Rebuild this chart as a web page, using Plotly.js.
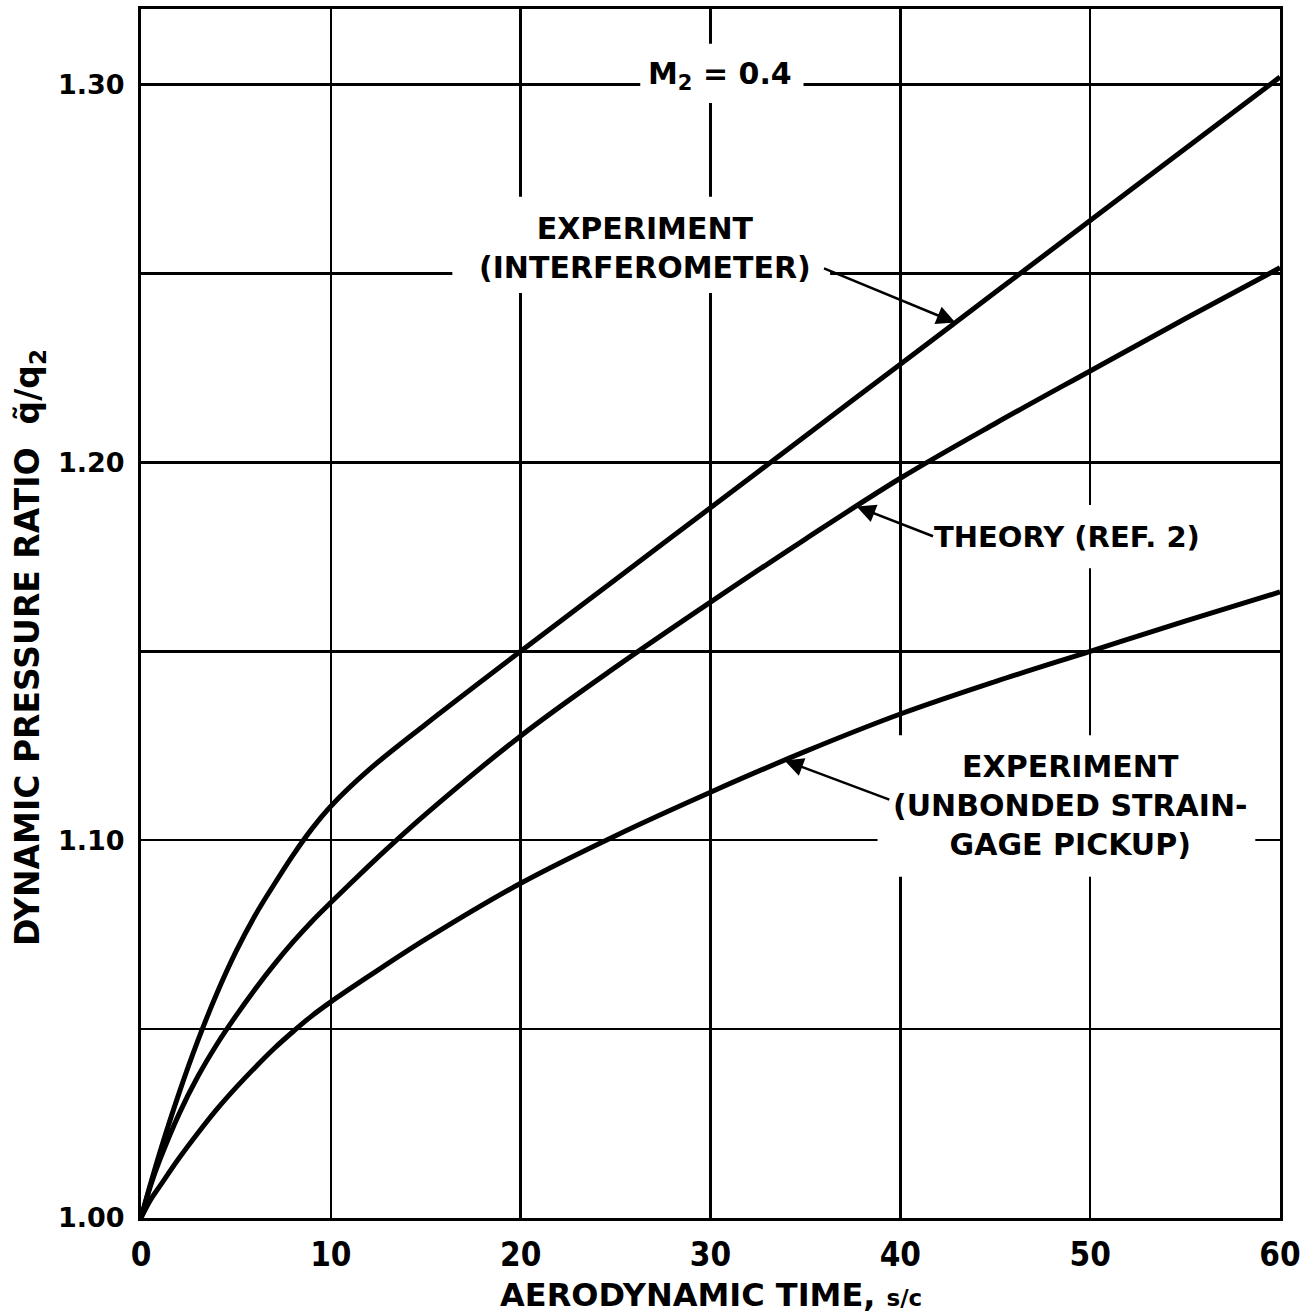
<!DOCTYPE html>
<html>
<head>
<meta charset="utf-8">
<script src="https://cdn.plot.ly/plotly-3.0.1.min.js"></script>
<style>html,body{margin:0;padding:0;background:#fff;}#chart{width:1313px;height:1314px;}</style>
</head>
<body>
<div id="chart"></div>
<script>
// Aerodynamic time s/c  ->  dynamic pressure ratio q~/q2
const xInterf = [0, 0.5, 1, 2, 3, 4, 5, 6, 7, 8, 9, 10, 12, 15, 20, 25, 30, 35, 40, 45, 50, 55, 60];
const yInterf = [1.000, 1.009, 1.0175, 1.033, 1.047, 1.0595, 1.0705, 1.080, 1.0882, 1.096, 1.103, 1.109, 1.1186, 1.1307, 1.150, 1.169, 1.188, 1.207, 1.226, 1.245, 1.264, 1.283, 1.302];

const xTheory = [0, 0.5, 1, 2, 3, 4, 5, 6, 7, 8, 9, 10, 12, 13, 15, 20, 25, 30, 35, 40, 45, 50, 55, 60];
const yTheory = [1.000, 1.0085, 1.0155, 1.0275, 1.0375, 1.046, 1.0535, 1.0605, 1.067, 1.073, 1.0785, 1.0835, 1.0932, 1.0979, 1.1069, 1.1276, 1.1458, 1.163, 1.1797, 1.1958, 1.2103, 1.2242, 1.238, 1.2515];

const xStrain = [0, 0.5, 1, 2, 3, 4, 5, 6, 7, 8, 9, 10, 12, 15, 20, 25, 30, 35, 40, 45, 50, 55, 60];
const yStrain = [1.000, 1.0048, 1.0085, 1.0158, 1.0225, 1.0288, 1.0345, 1.0398, 1.0448, 1.0493, 1.0535, 1.0572, 1.064, 1.0738, 1.0886, 1.1012, 1.1127, 1.1235, 1.1334, 1.142, 1.150, 1.158, 1.1657];

const xTickVals = [0, 10, 20, 30, 40, 50, 60];
const xTickText = ['0', '10', '20', '30', '40', '50', '60'];
const yTickVals = [1.00, 1.10, 1.20, 1.30];
const yTickText = ['1.00', '1.10', '1.20', '1.30'];
const yMinorVals = [1.05, 1.15, 1.25];

const FONT = 'DejaVu Sans, Liberation Sans, Arial, sans-serif';
const lineStyle = {color: '#000', width: 5, shape: 'spline', smoothing: 1.0};

const traces = [
  {x: xInterf, y: yInterf, mode: 'lines', line: lineStyle, name: 'Experiment (interferometer)', hoverinfo: 'skip'},
  {x: xTheory, y: yTheory, mode: 'lines', line: lineStyle, name: 'Theory (Ref. 2)', hoverinfo: 'skip'},
  {x: xStrain, y: yStrain, mode: 'lines', line: lineStyle, name: 'Experiment (unbonded strain-gage pickup)', hoverinfo: 'skip'}
];

function mask(x0, x1, y0, y1) {
  return {type: 'rect', xref: 'x', yref: 'y', x0: x0, x1: x1, y0: y0, y1: y1,
          fillcolor: '#fff', line: {width: 0}, layer: 'between'};
}

const lblFont = {family: FONT, size: 30, color: '#000', weight: 'bold'};
function arrow(x, y, ax, ay) {
  return {x: x, y: y, ax: ax, ay: ay, xref: 'x', yref: 'y', axref: 'x', ayref: 'y',
          text: '', showarrow: true, arrowhead: 2, arrowsize: 1.5, arrowwidth: 2.5, arrowcolor: '#000', standoff: 0};
}

const layout = {
  width: 1313, height: 1314,
  margin: {l: 141, r: 33, t: 9, b: 96},
  paper_bgcolor: '#fff', plot_bgcolor: '#fff',
  showlegend: false,
  xaxis: {
    range: [0, 60], tickvals: xTickVals, ticktext: xTickText,
    showgrid: true, gridcolor: '#000', gridwidth: 2.5,
    showline: true, linecolor: '#000', linewidth: 3, mirror: true,
    zeroline: false, ticks: '', ticklabelstandoff: 5,
    tickfont: {family: 'DejaVu Sans Condensed, DejaVu Sans, sans-serif', size: 33, color: '#000', weight: 'bold'}
  },
  yaxis: {
    range: [1.0, 1.32], tickvals: yTickVals, ticktext: yTickText,
    showgrid: true, gridcolor: '#000', gridwidth: 2.5,
    minor: {tickvals: yMinorVals, showgrid: true, gridcolor: '#000', gridwidth: 2.5, ticks: ''},
    showline: true, linecolor: '#000', linewidth: 3, mirror: true,
    zeroline: false, ticks: '', ticklabelstandoff: 8,
    tickfont: {family: FONT, size: 27, color: '#000', weight: 'bold'}
  },
  shapes: [
    mask(26.3, 34.9, 1.2951, 1.3108),
    mask(16.4, 36.3, 1.2448, 1.2703),
    mask(41.5, 56.2, 1.1720, 1.1887),
    mask(38.8, 58.7, 1.0903, 1.1278)
  ],
  annotations: [
    {x: 30.5, y: 1.3024, xref: 'x', yref: 'y', text: 'M<sub>2</sub> = 0.4', showarrow: false,
     font: {family: FONT, size: 30, color: '#000', weight: 'bold'}, xanchor: 'center', yanchor: 'middle'},
    {x: 26.55, y: 1.2568, xref: 'x', yref: 'y', text: 'EXPERIMENT<br>(INTERFEROMETER)', showarrow: false,
     font: lblFont, xanchor: 'center', yanchor: 'middle'},
    {x: 48.78, y: 1.1803, xref: 'x', yref: 'y', text: 'THEORY (REF. 2)', showarrow: false,
     font: {family: FONT, size: 29, color: '#000', weight: 'bold'}, xanchor: 'center', yanchor: 'middle'},
    {x: 48.94, y: 1.1091, xref: 'x', yref: 'y', text: 'EXPERIMENT<br>(UNBONDED STRAIN-<br>GAGE PICKUP)', showarrow: false,
     font: lblFont, xanchor: 'center', yanchor: 'middle'},
    arrow(42.9, 1.2370, 35.9, 1.2515),
    arrow(37.7, 1.1883, 41.8, 1.1803),
    arrow(33.9, 1.1211, 39.5, 1.1106),
    {x: 0.5, y: -0.0637, xref: 'paper', yref: 'paper', showarrow: false, xanchor: 'center', yanchor: 'middle',
     text: 'AERODYNAMIC TIME, <span style="font-size:23px">s/c</span>',
     font: {family: FONT, size: 32, color: '#000', weight: 'bold'}},
    {x: -0.0975, y: 0.4723, xref: 'paper', yref: 'paper', showarrow: false, xanchor: 'center', yanchor: 'middle',
     textangle: -90, text: 'DYNAMIC PRESSURE RATIO  q\u0303/q<sub>2</sub>',
     font: {family: FONT, size: 33, color: '#000', weight: 'bold'}}
  ]
};

Plotly.newPlot('chart', traces, layout, {staticPlot: true, displayModeBar: false});
</script>
</body>
</html>
